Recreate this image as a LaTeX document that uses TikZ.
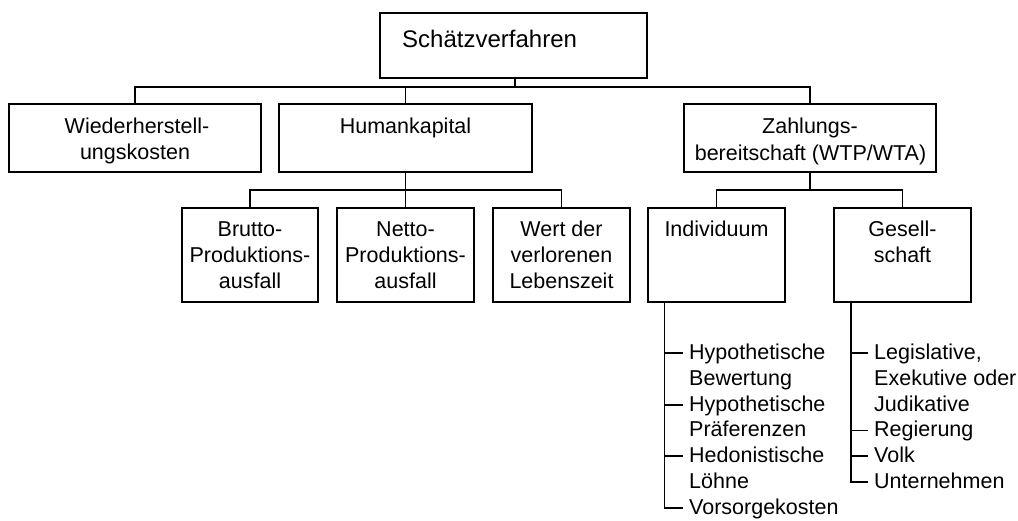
\documentclass[tikz,border=0pt]{standalone}
\usepackage{fontspec}
\setmainfont{Liberation Sans}
\begin{document}
\begin{tikzpicture}[x=1pt,y=-1pt,
  box/.style={draw, rectangle, line width=1.4pt, inner sep=0pt},
  conn/.style={line width=1.4pt},
  txt/.style={inner sep=0pt, anchor=base, font=\fontsize{21.5}{26}\selectfont},
  lst/.style={inner xsep=6pt, inner ysep=0pt, text height=15pt, text depth=3pt, anchor=base west, font=\fontsize{21.5}{26}\selectfont}
]
\useasboundingbox[fill=white] (0,0) rectangle (1018,520);

% boxes
\node[box, minimum width=267pt, minimum height=65pt] (top) at (513.5,45.5) {};
\node[box, minimum width=252pt, minimum height=68pt] (wied) at (135,138) {};
\node[box, minimum width=253pt, minimum height=68pt] (hk) at (405.5,138) {};
\node[box, minimum width=252pt, minimum height=68pt] (zb) at (810,138) {};
\node[box, minimum width=136pt, minimum height=94pt] (brutto) at (250,255) {};
\node[box, minimum width=137pt, minimum height=94pt] (netto) at (405.5,255) {};
\node[box, minimum width=137pt, minimum height=94pt] (wert) at (561.5,255) {};
\node[box, minimum width=137pt, minimum height=94pt] (indiv) at (716.5,255) {};
\node[box, minimum width=137pt, minimum height=94pt] (ges) at (902.5,255) {};

% box texts
\node[inner sep=0pt, anchor=base west, font=\fontsize{24}{28}\selectfont] (top-t) at (402,47) {Schätzverfahren};
\node[txt] (wied-t1) at (137,133) {Wiederherstell-};
\node[txt] (wied-t2) at (135,159.5) {ungskosten};
\node[txt] (hk-t) at (405.5,133) {Humankapital};
\node[txt] (zb-t1) at (810,133) {Zahlungs-};
\node[txt] (zb-t2) at (810.5,160) {bereitschaft (WTP/WTA)};
\node[txt] (brutto-t1) at (250,236) {Brutto-};
\node[txt] (brutto-t2) at (250,262) {Produktions-};
\node[txt] (brutto-t3) at (250,288) {ausfall};
\node[txt] (netto-t1) at (405.5,236) {Netto-};
\node[txt] (netto-t2) at (405.5,262) {Produktions-};
\node[txt] (netto-t3) at (405.5,288) {ausfall};
\node[txt] (wert-t1) at (561.5,236) {Wert der};
\node[txt] (wert-t2) at (561.5,262) {verlorenen};
\node[txt] (wert-t3) at (561.5,288) {Lebenszeit};
\node[txt] (indiv-t) at (716.5,236) {Individuum};
\node[txt] (ges-t1) at (902.5,236) {Gesell-};
\node[txt] (ges-t2) at (902.5,262) {schaft};

% bus coordinates
\coordinate (b0) at (515,87);
\coordinate (b1) at (405.5,190);
\coordinate (b2) at (810,190);

\draw[conn] (top.south -| b0) -- (b0);
\draw[conn] (b0) -| (wied.north);
\draw[conn] (b0) -| (hk.north);
\draw[conn] (b0) -| (zb.north);

\draw[conn] (hk.south) -- (b1);
\draw[conn] (b1) -| (brutto.north);
\draw[conn] (b1) -| (netto.north);
\draw[conn] (b1) -| (wert.north);

\draw[conn] (zb.south) -- (b2);
\draw[conn] (b2) -| (indiv.north);
\draw[conn] (b2) -| (ges.north);

% lists
\coordinate (iv) at ([xshift=17pt]indiv.south west);
\coordinate (gv) at ([xshift=17.5pt]ges.south west);

\node[lst] (i1) at (683,359) {Hypothetische};
\node[lst] (i1b) at (683,385) {Bewertung};
\node[lst] (i2) at (683,411) {Hypothetische};
\node[lst] (i2b) at (683,436.5) {Präferenzen};
\node[lst] (i3) at (683,462) {Hedonistische};
\node[lst] (i3b) at (683,488) {Löhne};
\node[lst] (i4) at (683,514) {Vorsorgekosten};

\node[lst] (g1) at (868,359) {Legislative,};
\node[lst] (g1b) at (868,385) {Exekutive oder};
\node[lst] (g1c) at (868,411) {Judikative};
\node[lst] (g2) at (868,436.5) {Regierung};
\node[lst] (g3) at (868,462) {Volk};
\node[lst] (g4) at (868,488) {Unternehmen};

\draw[conn] (iv) |- (i4.west);
\foreach \n in {i1,i2,i3} \draw[conn] (\n.west -| iv) -- (\n.west);

\draw[conn] (gv) |- (g4.west);
\foreach \n in {g1,g2,g3} \draw[conn] (\n.west -| gv) -- (\n.west);
\end{tikzpicture}
\end{document}
